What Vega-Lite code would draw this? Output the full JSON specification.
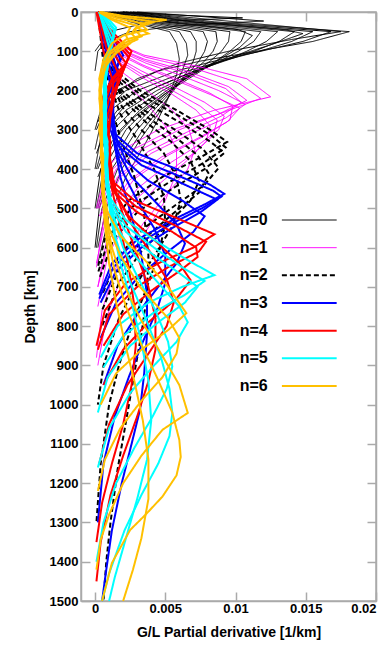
{
"$schema": "https://vega.github.io/schema/vega-lite/v6.json",
"width": 295, "height": 589,
"autosize": {"type": "none"},
"padding": {"left": 81, "top": 12, "right": 12, "bottom": 55},
"background": "white",
"config": {
 "font": "Liberation Sans",
 "view": {"stroke": "#aaaaaa", "strokeWidth": 1.5},
 "axis": {"grid": false, "labelFont": "Liberation Sans", "labelFontWeight": "bold", "labelFontSize": 13, "labelColor": "#000000", "titleFont": "Liberation Sans", "titleFontWeight": "bold", "titleFontSize": 14, "titleColor": "#000000", "tickColor": "#aaaaaa", "tickWidth": 1.5, "domainColor": "#aaaaaa", "domainWidth": 1.5}
},
"datasets": {
 "leg": [{"n":0,"lab":"n=0"},{"n":1,"lab":"n=1"},{"n":2,"lab":"n=2"},{"n":3,"lab":"n=3"},{"n":4,"lab":"n=4"},{"n":5,"lab":"n=5"},{"n":6,"lab":"n=6"}],
 "k": [
{"n":0,"c":0,"d":0,"g":0.002},{"n":0,"c":0,"d":8,"g":0.006},{"n":0,"c":0,"d":15,"g":0.0105},{"n":0,"c":0,"d":25,"g":0.004},{"n":0,"c":0,"d":50,"g":0.001},{"n":0,"c":0,"d":100,"g":0},
{"n":0,"c":1,"d":0,"g":0.003},{"n":0,"c":1,"d":10,"g":0.007},{"n":0,"c":1,"d":23,"g":0.012},{"n":0,"c":1,"d":35,"g":0.006},{"n":0,"c":1,"d":50,"g":0.0025},{"n":0,"c":1,"d":75,"g":0.0008},{"n":0,"c":1,"d":100,"g":0.0002},{"n":0,"c":1,"d":150,"g":0},
{"n":0,"c":2,"d":0,"g":0.0025},{"n":0,"c":2,"d":25,"g":0.0085},{"n":0,"c":2,"d":50,"g":0.0181},{"n":0,"c":2,"d":75,"g":0.0155},{"n":0,"c":2,"d":100,"g":0.0115},{"n":0,"c":2,"d":125,"g":0.0075},{"n":0,"c":2,"d":150,"g":0.0045},{"n":0,"c":2,"d":200,"g":0.0015},{"n":0,"c":2,"d":250,"g":0.0004},{"n":0,"c":2,"d":300,"g":0},
{"n":0,"c":3,"d":0,"g":0.0022},{"n":0,"c":3,"d":25,"g":0.0078},{"n":0,"c":3,"d":50,"g":0.0168},{"n":0,"c":3,"d":75,"g":0.0148},{"n":0,"c":3,"d":100,"g":0.0118},{"n":0,"c":3,"d":125,"g":0.0085},{"n":0,"c":3,"d":150,"g":0.0058},{"n":0,"c":3,"d":200,"g":0.0022},{"n":0,"c":3,"d":250,"g":0.0007},{"n":0,"c":3,"d":300,"g":0.0001},
{"n":0,"c":4,"d":0,"g":0.002},{"n":0,"c":4,"d":25,"g":0.0072},{"n":0,"c":4,"d":50,"g":0.0155},{"n":0,"c":4,"d":75,"g":0.014},{"n":0,"c":4,"d":100,"g":0.0117},{"n":0,"c":4,"d":125,"g":0.009},{"n":0,"c":4,"d":150,"g":0.0066},{"n":0,"c":4,"d":200,"g":0.003},{"n":0,"c":4,"d":250,"g":0.0011},{"n":0,"c":4,"d":300,"g":0.0003},{"n":0,"c":4,"d":350,"g":0},
{"n":0,"c":5,"d":0,"g":0.0018},{"n":0,"c":5,"d":25,"g":0.0066},{"n":0,"c":5,"d":50,"g":0.0142},{"n":0,"c":5,"d":75,"g":0.0131},{"n":0,"c":5,"d":100,"g":0.0113},{"n":0,"c":5,"d":125,"g":0.0092},{"n":0,"c":5,"d":150,"g":0.0071},{"n":0,"c":5,"d":200,"g":0.0038},{"n":0,"c":5,"d":250,"g":0.0016},{"n":0,"c":5,"d":300,"g":0.0005},{"n":0,"c":5,"d":400,"g":0},
{"n":0,"c":6,"d":0,"g":0.0016},{"n":0,"c":6,"d":25,"g":0.006},{"n":0,"c":6,"d":50,"g":0.013},{"n":0,"c":6,"d":75,"g":0.0122},{"n":0,"c":6,"d":100,"g":0.0108},{"n":0,"c":6,"d":125,"g":0.0091},{"n":0,"c":6,"d":150,"g":0.0073},{"n":0,"c":6,"d":200,"g":0.0044},{"n":0,"c":6,"d":250,"g":0.0022},{"n":0,"c":6,"d":300,"g":0.0009},{"n":0,"c":6,"d":400,"g":0.0001},
{"n":0,"c":7,"d":0,"g":0.0014},{"n":0,"c":7,"d":25,"g":0.0054},{"n":0,"c":7,"d":50,"g":0.0118},{"n":0,"c":7,"d":75,"g":0.0113},{"n":0,"c":7,"d":100,"g":0.0102},{"n":0,"c":7,"d":125,"g":0.0089},{"n":0,"c":7,"d":150,"g":0.0074},{"n":0,"c":7,"d":200,"g":0.0048},{"n":0,"c":7,"d":250,"g":0.0027},{"n":0,"c":7,"d":300,"g":0.0013},{"n":0,"c":7,"d":400,"g":0.0002},
{"n":0,"c":8,"d":0,"g":0.0012},{"n":0,"c":8,"d":25,"g":0.0049},{"n":0,"c":8,"d":50,"g":0.0107},{"n":0,"c":8,"d":75,"g":0.0104},{"n":0,"c":8,"d":100,"g":0.0096},{"n":0,"c":8,"d":125,"g":0.0086},{"n":0,"c":8,"d":150,"g":0.0074},{"n":0,"c":8,"d":200,"g":0.0051},{"n":0,"c":8,"d":250,"g":0.0032},{"n":0,"c":8,"d":300,"g":0.0018},{"n":0,"c":8,"d":400,"g":0.0004},{"n":0,"c":8,"d":500,"g":0},
{"n":0,"c":9,"d":0,"g":0.0011},{"n":0,"c":9,"d":25,"g":0.0044},{"n":0,"c":9,"d":50,"g":0.0096},{"n":0,"c":9,"d":75,"g":0.0095},{"n":0,"c":9,"d":100,"g":0.009},{"n":0,"c":9,"d":125,"g":0.0082},{"n":0,"c":9,"d":150,"g":0.0072},{"n":0,"c":9,"d":200,"g":0.0053},{"n":0,"c":9,"d":250,"g":0.0036},{"n":0,"c":9,"d":300,"g":0.0022},{"n":0,"c":9,"d":400,"g":0.0006},{"n":0,"c":9,"d":500,"g":0.0001},
{"n":0,"c":10,"d":0,"g":0.001},{"n":0,"c":10,"d":25,"g":0.004},{"n":0,"c":10,"d":50,"g":0.0086},{"n":0,"c":10,"d":75,"g":0.0087},{"n":0,"c":10,"d":100,"g":0.0084},{"n":0,"c":10,"d":125,"g":0.0078},{"n":0,"c":10,"d":150,"g":0.007},{"n":0,"c":10,"d":200,"g":0.0054},{"n":0,"c":10,"d":250,"g":0.0039},{"n":0,"c":10,"d":300,"g":0.0026},{"n":0,"c":10,"d":400,"g":0.0009},{"n":0,"c":10,"d":500,"g":0.0002},
{"n":0,"c":11,"d":0,"g":0.0009},{"n":0,"c":11,"d":25,"g":0.0036},{"n":0,"c":11,"d":50,"g":0.0077},{"n":0,"c":11,"d":75,"g":0.008},{"n":0,"c":11,"d":100,"g":0.0078},{"n":0,"c":11,"d":125,"g":0.0074},{"n":0,"c":11,"d":150,"g":0.0068},{"n":0,"c":11,"d":200,"g":0.0055},{"n":0,"c":11,"d":250,"g":0.0042},{"n":0,"c":11,"d":300,"g":0.003},{"n":0,"c":11,"d":400,"g":0.0012},{"n":0,"c":11,"d":500,"g":0.0003},{"n":0,"c":11,"d":600,"g":0},
{"n":0,"c":12,"d":0,"g":0.0008},{"n":0,"c":12,"d":25,"g":0.0032},{"n":0,"c":12,"d":50,"g":0.0068},{"n":0,"c":12,"d":75,"g":0.0072},{"n":0,"c":12,"d":100,"g":0.0072},{"n":0,"c":12,"d":125,"g":0.007},{"n":0,"c":12,"d":150,"g":0.0066},{"n":0,"c":12,"d":200,"g":0.0056},{"n":0,"c":12,"d":250,"g":0.0045},{"n":0,"c":12,"d":300,"g":0.0034},{"n":0,"c":12,"d":400,"g":0.0016},{"n":0,"c":12,"d":500,"g":0.0005},{"n":0,"c":12,"d":600,"g":0.0001},
{"n":0,"c":13,"d":0,"g":0.0027},{"n":0,"c":13,"d":15,"g":0.007},{"n":0,"c":13,"d":40,"g":0.0145},{"n":0,"c":13,"d":50,"g":0.0175},{"n":0,"c":13,"d":70,"g":0.014},{"n":0,"c":13,"d":100,"g":0.0095},{"n":0,"c":13,"d":130,"g":0.006},{"n":0,"c":13,"d":170,"g":0.003},{"n":0,"c":13,"d":220,"g":0.001},{"n":0,"c":13,"d":280,"g":0.0002},
{"n":0,"c":14,"d":0,"g":0.0019},{"n":0,"c":14,"d":25,"g":0.0069},{"n":0,"c":14,"d":45,"g":0.0135},{"n":0,"c":14,"d":55,"g":0.0148},{"n":0,"c":14,"d":80,"g":0.0128},{"n":0,"c":14,"d":110,"g":0.0102},{"n":0,"c":14,"d":140,"g":0.0078},{"n":0,"c":14,"d":190,"g":0.0044},{"n":0,"c":14,"d":240,"g":0.0021},{"n":0,"c":14,"d":300,"g":0.0007},{"n":0,"c":14,"d":360,"g":0.0001},
{"n":0,"c":15,"d":0,"g":0.0013},{"n":0,"c":15,"d":25,"g":0.0051},{"n":0,"c":15,"d":45,"g":0.0102},{"n":0,"c":15,"d":60,"g":0.0112},{"n":0,"c":15,"d":90,"g":0.0103},{"n":0,"c":15,"d":120,"g":0.0089},{"n":0,"c":15,"d":160,"g":0.0071},{"n":0,"c":15,"d":210,"g":0.0049},{"n":0,"c":15,"d":270,"g":0.0027},{"n":0,"c":15,"d":330,"g":0.0012},{"n":0,"c":15,"d":420,"g":0.0002},
{"n":0,"c":16,"d":0,"g":0.0007},{"n":0,"c":16,"d":25,"g":0.0028},{"n":0,"c":16,"d":50,"g":0.006},{"n":0,"c":16,"d":80,"g":0.0065},{"n":0,"c":16,"d":110,"g":0.0066},{"n":0,"c":16,"d":150,"g":0.0062},{"n":0,"c":16,"d":200,"g":0.0055},{"n":0,"c":16,"d":260,"g":0.0045},{"n":0,"c":16,"d":320,"g":0.0033},{"n":0,"c":16,"d":400,"g":0.0019},{"n":0,"c":16,"d":500,"g":0.0008},{"n":0,"c":16,"d":600,"g":0.0002},
{"n":0,"c":17,"d":0,"g":0.0006},{"n":0,"c":17,"d":25,"g":0.0025},{"n":0,"c":17,"d":50,"g":0.0053},{"n":0,"c":17,"d":80,"g":0.0058},{"n":0,"c":17,"d":120,"g":0.006},{"n":0,"c":17,"d":160,"g":0.0058},{"n":0,"c":17,"d":220,"g":0.0052},{"n":0,"c":17,"d":280,"g":0.0044},{"n":0,"c":17,"d":340,"g":0.0035},{"n":0,"c":17,"d":420,"g":0.0022},{"n":0,"c":17,"d":520,"g":0.001},{"n":0,"c":17,"d":640,"g":0.0002},
{"n":1,"c":1,"d":0,"g":0.0005},{"n":1,"c":1,"d":50,"g":0.001},{"n":1,"c":1,"d":80,"g":0.0015},{"n":1,"c":1,"d":110,"g":0.0035},{"n":1,"c":1,"d":140,"g":0.0075},{"n":1,"c":1,"d":170,"g":0.0108},{"n":1,"c":1,"d":216,"g":0.0125},{"n":1,"c":1,"d":250,"g":0.0085},{"n":1,"c":1,"d":300,"g":0.0045},{"n":1,"c":1,"d":350,"g":0.002},{"n":1,"c":1,"d":400,"g":0.0008},{"n":1,"c":1,"d":500,"g":0.0001},
{"n":1,"c":2,"d":0,"g":0.0004},{"n":1,"c":2,"d":50,"g":0.0008},{"n":1,"c":2,"d":90,"g":0.0015},{"n":1,"c":2,"d":120,"g":0.0035},{"n":1,"c":2,"d":150,"g":0.0065},{"n":1,"c":2,"d":190,"g":0.0095},{"n":1,"c":2,"d":225,"g":0.0108},{"n":1,"c":2,"d":260,"g":0.0088},{"n":1,"c":2,"d":300,"g":0.006},{"n":1,"c":2,"d":350,"g":0.0033},{"n":1,"c":2,"d":400,"g":0.0015},{"n":1,"c":2,"d":500,"g":0.0003},
{"n":1,"c":3,"d":0,"g":0.0004},{"n":1,"c":3,"d":60,"g":0.0008},{"n":1,"c":3,"d":100,"g":0.0018},{"n":1,"c":3,"d":130,"g":0.0036},{"n":1,"c":3,"d":160,"g":0.006},{"n":1,"c":3,"d":200,"g":0.0088},{"n":1,"c":3,"d":235,"g":0.0107},{"n":1,"c":3,"d":270,"g":0.0093},{"n":1,"c":3,"d":310,"g":0.0068},{"n":1,"c":3,"d":360,"g":0.004},{"n":1,"c":3,"d":420,"g":0.0018},{"n":1,"c":3,"d":520,"g":0.0004},
{"n":1,"c":4,"d":0,"g":0.0003},{"n":1,"c":4,"d":60,"g":0.0007},{"n":1,"c":4,"d":110,"g":0.0018},{"n":1,"c":4,"d":140,"g":0.0035},{"n":1,"c":4,"d":175,"g":0.0058},{"n":1,"c":4,"d":210,"g":0.0082},{"n":1,"c":4,"d":245,"g":0.0103},{"n":1,"c":4,"d":280,"g":0.0094},{"n":1,"c":4,"d":320,"g":0.0074},{"n":1,"c":4,"d":370,"g":0.0047},{"n":1,"c":4,"d":430,"g":0.0024},{"n":1,"c":4,"d":530,"g":0.0006},{"n":1,"c":4,"d":650,"g":0.0001},
{"n":1,"c":5,"d":0,"g":0.0003},{"n":1,"c":5,"d":70,"g":0.0007},{"n":1,"c":5,"d":120,"g":0.0018},{"n":1,"c":5,"d":150,"g":0.0033},{"n":1,"c":5,"d":190,"g":0.0056},{"n":1,"c":5,"d":230,"g":0.0078},{"n":1,"c":5,"d":265,"g":0.0092},{"n":1,"c":5,"d":300,"g":0.0088},{"n":1,"c":5,"d":340,"g":0.0073},{"n":1,"c":5,"d":390,"g":0.0051},{"n":1,"c":5,"d":450,"g":0.003},{"n":1,"c":5,"d":550,"g":0.001},{"n":1,"c":5,"d":700,"g":0.0002},
{"n":1,"c":6,"d":0,"g":0.0003},{"n":1,"c":6,"d":80,"g":0.0007},{"n":1,"c":6,"d":130,"g":0.0018},{"n":1,"c":6,"d":170,"g":0.0035},{"n":1,"c":6,"d":210,"g":0.0055},{"n":1,"c":6,"d":250,"g":0.0072},{"n":1,"c":6,"d":290,"g":0.0082},{"n":1,"c":6,"d":330,"g":0.0079},{"n":1,"c":6,"d":380,"g":0.0065},{"n":1,"c":6,"d":440,"g":0.0045},{"n":1,"c":6,"d":520,"g":0.0025},{"n":1,"c":6,"d":620,"g":0.0009},{"n":1,"c":6,"d":750,"g":0.0002},
{"n":1,"c":7,"d":0,"g":0.0002},{"n":1,"c":7,"d":90,"g":0.0006},{"n":1,"c":7,"d":150,"g":0.0018},{"n":1,"c":7,"d":200,"g":0.0037},{"n":1,"c":7,"d":250,"g":0.0055},{"n":1,"c":7,"d":300,"g":0.0067},{"n":1,"c":7,"d":350,"g":0.0071},{"n":1,"c":7,"d":400,"g":0.0066},{"n":1,"c":7,"d":460,"g":0.0052},{"n":1,"c":7,"d":540,"g":0.0034},{"n":1,"c":7,"d":640,"g":0.0016},{"n":1,"c":7,"d":760,"g":0.0005},{"n":1,"c":7,"d":880,"g":0.0001},
{"n":1,"c":8,"d":0,"g":0.0002},{"n":1,"c":8,"d":100,"g":0.0006},{"n":1,"c":8,"d":170,"g":0.0018},{"n":1,"c":8,"d":230,"g":0.0036},{"n":1,"c":8,"d":290,"g":0.005},{"n":1,"c":8,"d":350,"g":0.0058},{"n":1,"c":8,"d":410,"g":0.0058},{"n":1,"c":8,"d":480,"g":0.005},{"n":1,"c":8,"d":560,"g":0.0036},{"n":1,"c":8,"d":660,"g":0.002},{"n":1,"c":8,"d":780,"g":0.0008},{"n":1,"c":8,"d":900,"g":0.0002},
{"n":1,"c":9,"d":0,"g":0.0005},{"n":1,"c":9,"d":50,"g":0.0011},{"n":1,"c":9,"d":85,"g":0.0017},{"n":1,"c":9,"d":115,"g":0.0036},{"n":1,"c":9,"d":145,"g":0.0072},{"n":1,"c":9,"d":180,"g":0.0102},{"n":1,"c":9,"d":220,"g":0.0118},{"n":1,"c":9,"d":255,"g":0.0092},{"n":1,"c":9,"d":300,"g":0.0055},{"n":1,"c":9,"d":350,"g":0.0027},{"n":1,"c":9,"d":410,"g":0.001},{"n":1,"c":9,"d":500,"g":0.0002},
{"n":1,"c":10,"d":0,"g":0.0004},{"n":1,"c":10,"d":55,"g":0.0009},{"n":1,"c":10,"d":95,"g":0.0017},{"n":1,"c":10,"d":125,"g":0.0036},{"n":1,"c":10,"d":155,"g":0.0064},{"n":1,"c":10,"d":195,"g":0.0093},{"n":1,"c":10,"d":230,"g":0.0104},{"n":1,"c":10,"d":265,"g":0.009},{"n":1,"c":10,"d":305,"g":0.0066},{"n":1,"c":10,"d":355,"g":0.0038},{"n":1,"c":10,"d":420,"g":0.0016},{"n":1,"c":10,"d":520,"g":0.0003},
{"n":1,"c":11,"d":0,"g":0.0003},{"n":1,"c":11,"d":65,"g":0.0008},{"n":1,"c":11,"d":105,"g":0.0018},{"n":1,"c":11,"d":135,"g":0.0034},{"n":1,"c":11,"d":170,"g":0.0058},{"n":1,"c":11,"d":205,"g":0.0081},{"n":1,"c":11,"d":240,"g":0.0098},{"n":1,"c":11,"d":275,"g":0.0096},{"n":1,"c":11,"d":315,"g":0.0078},{"n":1,"c":11,"d":365,"g":0.0052},{"n":1,"c":11,"d":425,"g":0.0028},{"n":1,"c":11,"d":520,"g":0.0008},{"n":1,"c":11,"d":640,"g":0.0001},
{"n":1,"c":12,"d":0,"g":0.0003},{"n":1,"c":12,"d":75,"g":0.0007},{"n":1,"c":12,"d":125,"g":0.0018},{"n":1,"c":12,"d":160,"g":0.0034},{"n":1,"c":12,"d":200,"g":0.0055},{"n":1,"c":12,"d":240,"g":0.0075},{"n":1,"c":12,"d":275,"g":0.0087},{"n":1,"c":12,"d":315,"g":0.0084},{"n":1,"c":12,"d":360,"g":0.007},{"n":1,"c":12,"d":415,"g":0.0049},{"n":1,"c":12,"d":480,"g":0.0028},{"n":1,"c":12,"d":580,"g":0.001},{"n":1,"c":12,"d":700,"g":0.0002},
{"n":2,"c":1,"d":0,"g":0.0004},{"n":2,"c":1,"d":100,"g":0.001},{"n":2,"c":1,"d":160,"g":0.0018},{"n":2,"c":1,"d":200,"g":0.0032},{"n":2,"c":1,"d":250,"g":0.0058},{"n":2,"c":1,"d":300,"g":0.0082},{"n":2,"c":1,"d":331,"g":0.0094},{"n":2,"c":1,"d":370,"g":0.0075},{"n":2,"c":1,"d":420,"g":0.0048},{"n":2,"c":1,"d":480,"g":0.0024},{"n":2,"c":1,"d":550,"g":0.0009},{"n":2,"c":1,"d":650,"g":0.0002},
{"n":2,"c":2,"d":0,"g":0.0004},{"n":2,"c":2,"d":100,"g":0.0009},{"n":2,"c":2,"d":180,"g":0.0018},{"n":2,"c":2,"d":230,"g":0.0035},{"n":2,"c":2,"d":280,"g":0.006},{"n":2,"c":2,"d":330,"g":0.0082},{"n":2,"c":2,"d":359,"g":0.0092},{"n":2,"c":2,"d":400,"g":0.0078},{"n":2,"c":2,"d":450,"g":0.0055},{"n":2,"c":2,"d":510,"g":0.003},{"n":2,"c":2,"d":580,"g":0.0013},{"n":2,"c":2,"d":680,"g":0.0003},
{"n":2,"c":3,"d":0,"g":0.0003},{"n":2,"c":3,"d":120,"g":0.0009},{"n":2,"c":3,"d":200,"g":0.0019},{"n":2,"c":3,"d":250,"g":0.0035},{"n":2,"c":3,"d":300,"g":0.0057},{"n":2,"c":3,"d":350,"g":0.0077},{"n":2,"c":3,"d":397,"g":0.0088},{"n":2,"c":3,"d":440,"g":0.0078},{"n":2,"c":3,"d":490,"g":0.0058},{"n":2,"c":3,"d":550,"g":0.0035},{"n":2,"c":3,"d":620,"g":0.0017},{"n":2,"c":3,"d":720,"g":0.0005},
{"n":2,"c":4,"d":0,"g":0.0003},{"n":2,"c":4,"d":130,"g":0.0009},{"n":2,"c":4,"d":220,"g":0.0019},{"n":2,"c":4,"d":280,"g":0.0036},{"n":2,"c":4,"d":330,"g":0.0054},{"n":2,"c":4,"d":380,"g":0.0068},{"n":2,"c":4,"d":430,"g":0.0074},{"n":2,"c":4,"d":480,"g":0.0068},{"n":2,"c":4,"d":540,"g":0.0052},{"n":2,"c":4,"d":610,"g":0.0033},{"n":2,"c":4,"d":690,"g":0.0017},{"n":2,"c":4,"d":800,"g":0.0005},
{"n":2,"c":5,"d":0,"g":0.0003},{"n":2,"c":5,"d":150,"g":0.0009},{"n":2,"c":5,"d":240,"g":0.0019},{"n":2,"c":5,"d":300,"g":0.0033},{"n":2,"c":5,"d":360,"g":0.0049},{"n":2,"c":5,"d":420,"g":0.0058},{"n":2,"c":5,"d":480,"g":0.0061},{"n":2,"c":5,"d":540,"g":0.0056},{"n":2,"c":5,"d":610,"g":0.0044},{"n":2,"c":5,"d":690,"g":0.003},{"n":2,"c":5,"d":780,"g":0.0017},{"n":2,"c":5,"d":900,"g":0.0006},{"n":2,"c":5,"d":1000,"g":0.0002},
{"n":2,"c":6,"d":0,"g":0.0002},{"n":2,"c":6,"d":160,"g":0.0008},{"n":2,"c":6,"d":260,"g":0.0018},{"n":2,"c":6,"d":330,"g":0.0031},{"n":2,"c":6,"d":400,"g":0.0042},{"n":2,"c":6,"d":470,"g":0.0049},{"n":2,"c":6,"d":540,"g":0.005},{"n":2,"c":6,"d":620,"g":0.0045},{"n":2,"c":6,"d":710,"g":0.0036},{"n":2,"c":6,"d":800,"g":0.0026},{"n":2,"c":6,"d":900,"g":0.0017},{"n":2,"c":6,"d":1000,"g":0.001},{"n":2,"c":6,"d":1150,"g":0.0004},{"n":2,"c":6,"d":1300,"g":0.0001},
{"n":2,"c":7,"d":0,"g":0.0002},{"n":2,"c":7,"d":200,"g":0.0008},{"n":2,"c":7,"d":320,"g":0.0018},{"n":2,"c":7,"d":420,"g":0.0028},{"n":2,"c":7,"d":520,"g":0.0035},{"n":2,"c":7,"d":620,"g":0.0038},{"n":2,"c":7,"d":720,"g":0.0037},{"n":2,"c":7,"d":820,"g":0.0033},{"n":2,"c":7,"d":920,"g":0.0028},{"n":2,"c":7,"d":1064,"g":0.0021},{"n":2,"c":7,"d":1166,"g":0.0016},{"n":2,"c":7,"d":1300,"g":0.0011},{"n":2,"c":7,"d":1400,"g":0.0008},{"n":2,"c":7,"d":1500,"g":0.0006},
{"n":2,"c":8,"d":0,"g":0.0004},{"n":2,"c":8,"d":100,"g":0.001},{"n":2,"c":8,"d":170,"g":0.0018},{"n":2,"c":8,"d":215,"g":0.0034},{"n":2,"c":8,"d":265,"g":0.006},{"n":2,"c":8,"d":315,"g":0.0083},{"n":2,"c":8,"d":345,"g":0.0093},{"n":2,"c":8,"d":385,"g":0.0077},{"n":2,"c":8,"d":435,"g":0.0052},{"n":2,"c":8,"d":495,"g":0.0027},{"n":2,"c":8,"d":565,"g":0.0011},{"n":2,"c":8,"d":665,"g":0.0002},
{"n":2,"c":9,"d":0,"g":0.0003},{"n":2,"c":9,"d":125,"g":0.0009},{"n":2,"c":9,"d":210,"g":0.0019},{"n":2,"c":9,"d":265,"g":0.0036},{"n":2,"c":9,"d":315,"g":0.0056},{"n":2,"c":9,"d":365,"g":0.0073},{"n":2,"c":9,"d":412,"g":0.0081},{"n":2,"c":9,"d":460,"g":0.0074},{"n":2,"c":9,"d":515,"g":0.0055},{"n":2,"c":9,"d":580,"g":0.0034},{"n":2,"c":9,"d":655,"g":0.0017},{"n":2,"c":9,"d":760,"g":0.0005},
{"n":3,"c":1,"d":0,"g":0.0004},{"n":3,"c":1,"d":60,"g":0.0012},{"n":3,"c":1,"d":110,"g":0.002},{"n":3,"c":1,"d":160,"g":0.0012},{"n":3,"c":1,"d":210,"g":0.0008},{"n":3,"c":1,"d":260,"g":0.0013},{"n":3,"c":1,"d":310,"g":0.0014},{"n":3,"c":1,"d":360,"g":0.003},{"n":3,"c":1,"d":400,"g":0.0058},{"n":3,"c":1,"d":440,"g":0.0082},{"n":3,"c":1,"d":463,"g":0.0092},{"n":3,"c":1,"d":490,"g":0.0078},{"n":3,"c":1,"d":530,"g":0.0055},{"n":3,"c":1,"d":580,"g":0.003},{"n":3,"c":1,"d":640,"g":0.0012},{"n":3,"c":1,"d":720,"g":0.0003},
{"n":3,"c":2,"d":0,"g":0.0003},{"n":3,"c":2,"d":70,"g":0.001},{"n":3,"c":2,"d":130,"g":0.0017},{"n":3,"c":2,"d":190,"g":0.001},{"n":3,"c":2,"d":240,"g":0.0008},{"n":3,"c":2,"d":290,"g":0.0014},{"n":3,"c":2,"d":340,"g":0.0016},{"n":3,"c":2,"d":390,"g":0.0033},{"n":3,"c":2,"d":430,"g":0.0058},{"n":3,"c":2,"d":478,"g":0.0087},{"n":3,"c":2,"d":510,"g":0.0075},{"n":3,"c":2,"d":550,"g":0.0055},{"n":3,"c":2,"d":600,"g":0.0033},{"n":3,"c":2,"d":660,"g":0.0015},{"n":3,"c":2,"d":740,"g":0.0004},
{"n":3,"c":3,"d":0,"g":0.0003},{"n":3,"c":3,"d":80,"g":0.001},{"n":3,"c":3,"d":150,"g":0.0016},{"n":3,"c":3,"d":210,"g":0.001},{"n":3,"c":3,"d":260,"g":0.0009},{"n":3,"c":3,"d":320,"g":0.0015},{"n":3,"c":3,"d":380,"g":0.0022},{"n":3,"c":3,"d":430,"g":0.0038},{"n":3,"c":3,"d":480,"g":0.0062},{"n":3,"c":3,"d":520,"g":0.0078},{"n":3,"c":3,"d":560,"g":0.007},{"n":3,"c":3,"d":610,"g":0.0052},{"n":3,"c":3,"d":670,"g":0.0032},{"n":3,"c":3,"d":740,"g":0.0015},{"n":3,"c":3,"d":830,"g":0.0004},
{"n":3,"c":4,"d":0,"g":0.0003},{"n":3,"c":4,"d":90,"g":0.0009},{"n":3,"c":4,"d":170,"g":0.0015},{"n":3,"c":4,"d":240,"g":0.0011},{"n":3,"c":4,"d":300,"g":0.0011},{"n":3,"c":4,"d":360,"g":0.0017},{"n":3,"c":4,"d":420,"g":0.0026},{"n":3,"c":4,"d":480,"g":0.0042},{"n":3,"c":4,"d":540,"g":0.0058},{"n":3,"c":4,"d":590,"g":0.0064},{"n":3,"c":4,"d":640,"g":0.0058},{"n":3,"c":4,"d":700,"g":0.0045},{"n":3,"c":4,"d":770,"g":0.003},{"n":3,"c":4,"d":850,"g":0.0016},{"n":3,"c":4,"d":950,"g":0.0006},
{"n":3,"c":5,"d":0,"g":0.0002},{"n":3,"c":5,"d":100,"g":0.0008},{"n":3,"c":5,"d":190,"g":0.0014},{"n":3,"c":5,"d":270,"g":0.0012},{"n":3,"c":5,"d":340,"g":0.0014},{"n":3,"c":5,"d":410,"g":0.002},{"n":3,"c":5,"d":480,"g":0.003},{"n":3,"c":5,"d":550,"g":0.0042},{"n":3,"c":5,"d":620,"g":0.005},{"n":3,"c":5,"d":690,"g":0.005},{"n":3,"c":5,"d":760,"g":0.0044},{"n":3,"c":5,"d":840,"g":0.0034},{"n":3,"c":5,"d":930,"g":0.0024},{"n":3,"c":5,"d":1030,"g":0.0014},{"n":3,"c":5,"d":1150,"g":0.0006},{"n":3,"c":5,"d":1300,"g":0.0002},
{"n":3,"c":6,"d":0,"g":0.0002},{"n":3,"c":6,"d":120,"g":0.0007},{"n":3,"c":6,"d":220,"g":0.0013},{"n":3,"c":6,"d":320,"g":0.0013},{"n":3,"c":6,"d":420,"g":0.0018},{"n":3,"c":6,"d":520,"g":0.0026},{"n":3,"c":6,"d":620,"g":0.0033},{"n":3,"c":6,"d":720,"g":0.0037},{"n":3,"c":6,"d":820,"g":0.0037},{"n":3,"c":6,"d":920,"g":0.0035},{"n":3,"c":6,"d":1013,"g":0.0032},{"n":3,"c":6,"d":1100,"g":0.0026},{"n":3,"c":6,"d":1200,"g":0.0019},{"n":3,"c":6,"d":1320,"g":0.0012},{"n":3,"c":6,"d":1420,"g":0.0008},{"n":3,"c":6,"d":1500,"g":0.0005},
{"n":3,"c":7,"d":0,"g":0.0003},{"n":3,"c":7,"d":65,"g":0.0011},{"n":3,"c":7,"d":120,"g":0.0018},{"n":3,"c":7,"d":175,"g":0.0011},{"n":3,"c":7,"d":225,"g":0.0008},{"n":3,"c":7,"d":275,"g":0.0013},{"n":3,"c":7,"d":325,"g":0.0015},{"n":3,"c":7,"d":375,"g":0.0031},{"n":3,"c":7,"d":415,"g":0.0058},{"n":3,"c":7,"d":455,"g":0.0084},{"n":3,"c":7,"d":470,"g":0.009},{"n":3,"c":7,"d":500,"g":0.0076},{"n":3,"c":7,"d":540,"g":0.0054},{"n":3,"c":7,"d":590,"g":0.0031},{"n":3,"c":7,"d":650,"g":0.0013},{"n":3,"c":7,"d":730,"g":0.0003},
{"n":4,"c":1,"d":0,"g":0.0002},{"n":4,"c":1,"d":50,"g":0.0012},{"n":4,"c":1,"d":100,"g":0.0026},{"n":4,"c":1,"d":130,"g":0.0022},{"n":4,"c":1,"d":170,"g":0.0012},{"n":4,"c":1,"d":220,"g":0.0005},{"n":4,"c":1,"d":280,"g":0.0007},{"n":4,"c":1,"d":330,"g":0.0011},{"n":4,"c":1,"d":380,"g":0.0008},{"n":4,"c":1,"d":430,"g":0.0012},{"n":4,"c":1,"d":480,"g":0.0028},{"n":4,"c":1,"d":520,"g":0.0055},{"n":4,"c":1,"d":566,"g":0.0085},{"n":4,"c":1,"d":600,"g":0.007},{"n":4,"c":1,"d":640,"g":0.0045},{"n":4,"c":1,"d":690,"g":0.0022},{"n":4,"c":1,"d":760,"g":0.0007},{"n":4,"c":1,"d":850,"g":0.0001},
{"n":4,"c":2,"d":0,"g":0.0002},{"n":4,"c":2,"d":60,"g":0.0011},{"n":4,"c":2,"d":115,"g":0.0024},{"n":4,"c":2,"d":150,"g":0.002},{"n":4,"c":2,"d":190,"g":0.0011},{"n":4,"c":2,"d":250,"g":0.0005},{"n":4,"c":2,"d":310,"g":0.0008},{"n":4,"c":2,"d":360,"g":0.0011},{"n":4,"c":2,"d":410,"g":0.0009},{"n":4,"c":2,"d":460,"g":0.0014},{"n":4,"c":2,"d":510,"g":0.003},{"n":4,"c":2,"d":560,"g":0.0055},{"n":4,"c":2,"d":600,"g":0.0072},{"n":4,"c":2,"d":624,"g":0.0073},{"n":4,"c":2,"d":660,"g":0.006},{"n":4,"c":2,"d":710,"g":0.004},{"n":4,"c":2,"d":770,"g":0.002},{"n":4,"c":2,"d":850,"g":0.0006},
{"n":4,"c":3,"d":0,"g":0.0002},{"n":4,"c":3,"d":70,"g":0.001},{"n":4,"c":3,"d":130,"g":0.0022},{"n":4,"c":3,"d":170,"g":0.0018},{"n":4,"c":3,"d":220,"g":0.001},{"n":4,"c":3,"d":280,"g":0.0006},{"n":4,"c":3,"d":340,"g":0.0009},{"n":4,"c":3,"d":400,"g":0.0012},{"n":4,"c":3,"d":460,"g":0.0014},{"n":4,"c":3,"d":520,"g":0.0024},{"n":4,"c":3,"d":580,"g":0.0042},{"n":4,"c":3,"d":640,"g":0.006},{"n":4,"c":3,"d":683,"g":0.0068},{"n":4,"c":3,"d":730,"g":0.0058},{"n":4,"c":3,"d":790,"g":0.0038},{"n":4,"c":3,"d":860,"g":0.002},{"n":4,"c":3,"d":950,"g":0.0006},
{"n":4,"c":4,"d":0,"g":0.0002},{"n":4,"c":4,"d":80,"g":0.0009},{"n":4,"c":4,"d":145,"g":0.002},{"n":4,"c":4,"d":200,"g":0.0015},{"n":4,"c":4,"d":260,"g":0.0009},{"n":4,"c":4,"d":330,"g":0.0008},{"n":4,"c":4,"d":400,"g":0.0011},{"n":4,"c":4,"d":470,"g":0.0016},{"n":4,"c":4,"d":540,"g":0.0026},{"n":4,"c":4,"d":610,"g":0.0039},{"n":4,"c":4,"d":680,"g":0.0051},{"n":4,"c":4,"d":740,"g":0.0056},{"n":4,"c":4,"d":800,"g":0.0051},{"n":4,"c":4,"d":870,"g":0.0038},{"n":4,"c":4,"d":950,"g":0.0023},{"n":4,"c":4,"d":1050,"g":0.001},{"n":4,"c":4,"d":1150,"g":0.0003},
{"n":4,"c":5,"d":0,"g":0.0002},{"n":4,"c":5,"d":90,"g":0.0008},{"n":4,"c":5,"d":160,"g":0.0017},{"n":4,"c":5,"d":230,"g":0.0013},{"n":4,"c":5,"d":300,"g":0.0009},{"n":4,"c":5,"d":380,"g":0.001},{"n":4,"c":5,"d":460,"g":0.0015},{"n":4,"c":5,"d":540,"g":0.0022},{"n":4,"c":5,"d":620,"g":0.003},{"n":4,"c":5,"d":700,"g":0.0038},{"n":4,"c":5,"d":780,"g":0.0043},{"n":4,"c":5,"d":860,"g":0.0043},{"n":4,"c":5,"d":940,"g":0.0038},{"n":4,"c":5,"d":1030,"g":0.003},{"n":4,"c":5,"d":1130,"g":0.002},{"n":4,"c":5,"d":1230,"g":0.0011},{"n":4,"c":5,"d":1350,"g":0.0004},{"n":4,"c":5,"d":1450,"g":0.0001},
{"n":4,"c":6,"d":0,"g":0.0001},{"n":4,"c":6,"d":100,"g":0.0006},{"n":4,"c":6,"d":180,"g":0.0013},{"n":4,"c":6,"d":260,"g":0.0011},{"n":4,"c":6,"d":350,"g":0.0009},{"n":4,"c":6,"d":450,"g":0.0012},{"n":4,"c":6,"d":550,"g":0.0018},{"n":4,"c":6,"d":650,"g":0.0024},{"n":4,"c":6,"d":750,"g":0.0028},{"n":4,"c":6,"d":850,"g":0.0029},{"n":4,"c":6,"d":950,"g":0.0026},{"n":4,"c":6,"d":1050,"g":0.002},{"n":4,"c":6,"d":1150,"g":0.0012},{"n":4,"c":6,"d":1250,"g":0.0005},{"n":4,"c":6,"d":1350,"g":0.0001},
{"n":4,"c":7,"d":0,"g":0.0002},{"n":4,"c":7,"d":55,"g":0.0011},{"n":4,"c":7,"d":108,"g":0.0025},{"n":4,"c":7,"d":140,"g":0.0021},{"n":4,"c":7,"d":180,"g":0.0011},{"n":4,"c":7,"d":235,"g":0.0005},{"n":4,"c":7,"d":295,"g":0.0007},{"n":4,"c":7,"d":345,"g":0.0011},{"n":4,"c":7,"d":395,"g":0.0009},{"n":4,"c":7,"d":445,"g":0.0013},{"n":4,"c":7,"d":495,"g":0.0029},{"n":4,"c":7,"d":540,"g":0.0055},{"n":4,"c":7,"d":585,"g":0.0079},{"n":4,"c":7,"d":610,"g":0.0074},{"n":4,"c":7,"d":650,"g":0.0052},{"n":4,"c":7,"d":700,"g":0.003},{"n":4,"c":7,"d":770,"g":0.001},{"n":4,"c":7,"d":860,"g":0.0002},
{"n":5,"c":1,"d":0,"g":0.0005},{"n":5,"c":1,"d":40,"g":0.0015},{"n":5,"c":1,"d":80,"g":0.0012},{"n":5,"c":1,"d":130,"g":0.0006},{"n":5,"c":1,"d":200,"g":0.0008},{"n":5,"c":1,"d":260,"g":0.0004},{"n":5,"c":1,"d":330,"g":0.0009},{"n":5,"c":1,"d":400,"g":0.0007},{"n":5,"c":1,"d":470,"g":0.001},{"n":5,"c":1,"d":530,"g":0.0022},{"n":5,"c":1,"d":580,"g":0.0042},{"n":5,"c":1,"d":630,"g":0.0065},{"n":5,"c":1,"d":670,"g":0.0085},{"n":5,"c":1,"d":700,"g":0.0062},{"n":5,"c":1,"d":740,"g":0.0038},{"n":5,"c":1,"d":800,"g":0.0016},{"n":5,"c":1,"d":880,"g":0.0004},
{"n":5,"c":2,"d":0,"g":0.0004},{"n":5,"c":2,"d":50,"g":0.0014},{"n":5,"c":2,"d":95,"g":0.0011},{"n":5,"c":2,"d":150,"g":0.0006},{"n":5,"c":2,"d":220,"g":0.0008},{"n":5,"c":2,"d":290,"g":0.0005},{"n":5,"c":2,"d":360,"g":0.0009},{"n":5,"c":2,"d":430,"g":0.0008},{"n":5,"c":2,"d":500,"g":0.0012},{"n":5,"c":2,"d":560,"g":0.0022},{"n":5,"c":2,"d":620,"g":0.0042},{"n":5,"c":2,"d":665,"g":0.006},{"n":5,"c":2,"d":700,"g":0.0073},{"n":5,"c":2,"d":740,"g":0.0064},{"n":5,"c":2,"d":790,"g":0.0045},{"n":5,"c":2,"d":850,"g":0.0025},{"n":5,"c":2,"d":930,"g":0.0009},{"n":5,"c":2,"d":1020,"g":0.0002},
{"n":5,"c":3,"d":0,"g":0.0004},{"n":5,"c":3,"d":60,"g":0.0013},{"n":5,"c":3,"d":110,"g":0.001},{"n":5,"c":3,"d":170,"g":0.0006},{"n":5,"c":3,"d":240,"g":0.0008},{"n":5,"c":3,"d":320,"g":0.0006},{"n":5,"c":3,"d":400,"g":0.0009},{"n":5,"c":3,"d":480,"g":0.001},{"n":5,"c":3,"d":550,"g":0.0016},{"n":5,"c":3,"d":620,"g":0.0028},{"n":5,"c":3,"d":690,"g":0.0045},{"n":5,"c":3,"d":750,"g":0.006},{"n":5,"c":3,"d":790,"g":0.0066},{"n":5,"c":3,"d":840,"g":0.0058},{"n":5,"c":3,"d":900,"g":0.0042},{"n":5,"c":3,"d":970,"g":0.0025},{"n":5,"c":3,"d":1060,"g":0.001},{"n":5,"c":3,"d":1160,"g":0.0002},
{"n":5,"c":4,"d":0,"g":0.0003},{"n":5,"c":4,"d":70,"g":0.0012},{"n":5,"c":4,"d":125,"g":0.001},{"n":5,"c":4,"d":190,"g":0.0006},{"n":5,"c":4,"d":270,"g":0.0008},{"n":5,"c":4,"d":350,"g":0.0007},{"n":5,"c":4,"d":430,"g":0.0009},{"n":5,"c":4,"d":520,"g":0.0013},{"n":5,"c":4,"d":600,"g":0.002},{"n":5,"c":4,"d":680,"g":0.0031},{"n":5,"c":4,"d":760,"g":0.0043},{"n":5,"c":4,"d":840,"g":0.0052},{"n":5,"c":4,"d":903,"g":0.0055},{"n":5,"c":4,"d":960,"g":0.0051},{"n":5,"c":4,"d":1030,"g":0.0041},{"n":5,"c":4,"d":1110,"g":0.0028},{"n":5,"c":4,"d":1200,"g":0.0015},{"n":5,"c":4,"d":1300,"g":0.0006},{"n":5,"c":4,"d":1400,"g":0.0001},
{"n":5,"c":5,"d":0,"g":0.0003},{"n":5,"c":5,"d":80,"g":0.0011},{"n":5,"c":5,"d":140,"g":0.0009},{"n":5,"c":5,"d":210,"g":0.0006},{"n":5,"c":5,"d":300,"g":0.0008},{"n":5,"c":5,"d":390,"g":0.0007},{"n":5,"c":5,"d":480,"g":0.001},{"n":5,"c":5,"d":580,"g":0.0015},{"n":5,"c":5,"d":680,"g":0.0024},{"n":5,"c":5,"d":780,"g":0.0036},{"n":5,"c":5,"d":880,"g":0.0047},{"n":5,"c":5,"d":960,"g":0.0053},{"n":5,"c":5,"d":1021,"g":0.0055},{"n":5,"c":5,"d":1080,"g":0.0053},{"n":5,"c":5,"d":1150,"g":0.0045},{"n":5,"c":5,"d":1230,"g":0.0033},{"n":5,"c":5,"d":1320,"g":0.0021},{"n":5,"c":5,"d":1430,"g":0.001},{"n":5,"c":5,"d":1500,"g":0.0005},
{"n":5,"c":6,"d":0,"g":0.0003},{"n":5,"c":6,"d":90,"g":0.001},{"n":5,"c":6,"d":160,"g":0.0008},{"n":5,"c":6,"d":240,"g":0.0006},{"n":5,"c":6,"d":340,"g":0.0007},{"n":5,"c":6,"d":440,"g":0.0008},{"n":5,"c":6,"d":540,"g":0.0012},{"n":5,"c":6,"d":640,"g":0.0018},{"n":5,"c":6,"d":740,"g":0.0026},{"n":5,"c":6,"d":840,"g":0.0033},{"n":5,"c":6,"d":940,"g":0.0038},{"n":5,"c":6,"d":1040,"g":0.004},{"n":5,"c":6,"d":1140,"g":0.0037},{"n":5,"c":6,"d":1240,"g":0.003},{"n":5,"c":6,"d":1340,"g":0.0022},{"n":5,"c":6,"d":1440,"g":0.0014},{"n":5,"c":6,"d":1500,"g":0.001},
{"n":5,"c":7,"d":0,"g":0.0004},{"n":5,"c":7,"d":45,"g":0.0014},{"n":5,"c":7,"d":88,"g":0.0012},{"n":5,"c":7,"d":140,"g":0.0006},{"n":5,"c":7,"d":210,"g":0.0008},{"n":5,"c":7,"d":275,"g":0.0005},{"n":5,"c":7,"d":345,"g":0.0009},{"n":5,"c":7,"d":415,"g":0.0008},{"n":5,"c":7,"d":485,"g":0.0011},{"n":5,"c":7,"d":545,"g":0.0022},{"n":5,"c":7,"d":600,"g":0.0042},{"n":5,"c":7,"d":650,"g":0.0062},{"n":5,"c":7,"d":685,"g":0.0078},{"n":5,"c":7,"d":720,"g":0.0064},{"n":5,"c":7,"d":765,"g":0.0042},{"n":5,"c":7,"d":825,"g":0.002},{"n":5,"c":7,"d":905,"g":0.0006},
{"n":6,"c":1,"d":0,"g":0.0004},{"n":6,"c":1,"d":10,"g":0.002},{"n":6,"c":1,"d":20,"g":0.0051},{"n":6,"c":1,"d":30,"g":0.0032},{"n":6,"c":1,"d":45,"g":0.0037},{"n":6,"c":1,"d":60,"g":0.002},{"n":6,"c":1,"d":80,"g":0.0012},{"n":6,"c":1,"d":120,"g":0.0006},{"n":6,"c":1,"d":170,"g":0.0003},{"n":6,"c":1,"d":230,"g":0.0005},{"n":6,"c":1,"d":300,"g":0.0003},{"n":6,"c":1,"d":370,"g":0.0006},{"n":6,"c":1,"d":440,"g":0.0005},{"n":6,"c":1,"d":510,"g":0.0009},{"n":6,"c":1,"d":570,"g":0.0018},{"n":6,"c":1,"d":630,"g":0.0035},{"n":6,"c":1,"d":700,"g":0.0052},{"n":6,"c":1,"d":767,"g":0.0065},{"n":6,"c":1,"d":810,"g":0.0052},{"n":6,"c":1,"d":860,"g":0.0033},{"n":6,"c":1,"d":920,"g":0.0015},{"n":6,"c":1,"d":1000,"g":0.0004},
{"n":6,"c":2,"d":0,"g":0.0004},{"n":6,"c":2,"d":12,"g":0.0018},{"n":6,"c":2,"d":25,"g":0.0042},{"n":6,"c":2,"d":40,"g":0.003},{"n":6,"c":2,"d":55,"g":0.0038},{"n":6,"c":2,"d":70,"g":0.0022},{"n":6,"c":2,"d":100,"g":0.0011},{"n":6,"c":2,"d":140,"g":0.0005},{"n":6,"c":2,"d":200,"g":0.0003},{"n":6,"c":2,"d":260,"g":0.0005},{"n":6,"c":2,"d":330,"g":0.0004},{"n":6,"c":2,"d":400,"g":0.0006},{"n":6,"c":2,"d":470,"g":0.0006},{"n":6,"c":2,"d":550,"g":0.001},{"n":6,"c":2,"d":620,"g":0.0018},{"n":6,"c":2,"d":700,"g":0.0032},{"n":6,"c":2,"d":780,"g":0.0052},{"n":6,"c":2,"d":830,"g":0.006},{"n":6,"c":2,"d":870,"g":0.0058},{"n":6,"c":2,"d":930,"g":0.0048},{"n":6,"c":2,"d":990,"g":0.0033},{"n":6,"c":2,"d":1060,"g":0.0018},{"n":6,"c":2,"d":1140,"g":0.0007},{"n":6,"c":2,"d":1220,"g":0.0002},
{"n":6,"c":3,"d":0,"g":0.0003},{"n":6,"c":3,"d":15,"g":0.0015},{"n":6,"c":3,"d":30,"g":0.0035},{"n":6,"c":3,"d":45,"g":0.0028},{"n":6,"c":3,"d":62,"g":0.0033},{"n":6,"c":3,"d":80,"g":0.002},{"n":6,"c":3,"d":110,"g":0.001},{"n":6,"c":3,"d":160,"g":0.0005},{"n":6,"c":3,"d":220,"g":0.0003},{"n":6,"c":3,"d":290,"g":0.0005},{"n":6,"c":3,"d":360,"g":0.0004},{"n":6,"c":3,"d":430,"g":0.0006},{"n":6,"c":3,"d":510,"g":0.0007},{"n":6,"c":3,"d":600,"g":0.0012},{"n":6,"c":3,"d":690,"g":0.002},{"n":6,"c":3,"d":780,"g":0.0032},{"n":6,"c":3,"d":870,"g":0.0047},{"n":6,"c":3,"d":950,"g":0.006},{"n":6,"c":3,"d":1021,"g":0.0066},{"n":6,"c":3,"d":1064,"g":0.0048},{"n":6,"c":3,"d":1130,"g":0.0033},{"n":6,"c":3,"d":1200,"g":0.002},{"n":6,"c":3,"d":1280,"g":0.001},{"n":6,"c":3,"d":1344,"g":0.0004},{"n":6,"c":3,"d":1420,"g":0.0001},
{"n":6,"c":4,"d":0,"g":0.0003},{"n":6,"c":4,"d":18,"g":0.0013},{"n":6,"c":4,"d":35,"g":0.003},{"n":6,"c":4,"d":55,"g":0.0026},{"n":6,"c":4,"d":70,"g":0.003},{"n":6,"c":4,"d":90,"g":0.0018},{"n":6,"c":4,"d":125,"g":0.0009},{"n":6,"c":4,"d":180,"g":0.0004},{"n":6,"c":4,"d":250,"g":0.0004},{"n":6,"c":4,"d":320,"g":0.0005},{"n":6,"c":4,"d":400,"g":0.0005},{"n":6,"c":4,"d":480,"g":0.0006},{"n":6,"c":4,"d":570,"g":0.0009},{"n":6,"c":4,"d":660,"g":0.0014},{"n":6,"c":4,"d":750,"g":0.0022},{"n":6,"c":4,"d":840,"g":0.0032},{"n":6,"c":4,"d":930,"g":0.0044},{"n":6,"c":4,"d":1020,"g":0.0055},{"n":6,"c":4,"d":1090,"g":0.006},{"n":6,"c":4,"d":1133,"g":0.0061},{"n":6,"c":4,"d":1180,"g":0.0058},{"n":6,"c":4,"d":1234,"g":0.0048},{"n":6,"c":4,"d":1280,"g":0.0036},{"n":6,"c":4,"d":1319,"g":0.0025},{"n":6,"c":4,"d":1403,"g":0.0012},{"n":6,"c":4,"d":1500,"g":0.0005},
{"n":6,"c":5,"d":0,"g":0.0003},{"n":6,"c":5,"d":20,"g":0.0012},{"n":6,"c":5,"d":40,"g":0.0025},{"n":6,"c":5,"d":60,"g":0.0022},{"n":6,"c":5,"d":80,"g":0.0025},{"n":6,"c":5,"d":105,"g":0.0015},{"n":6,"c":5,"d":140,"g":0.0007},{"n":6,"c":5,"d":200,"g":0.0004},{"n":6,"c":5,"d":280,"g":0.0004},{"n":6,"c":5,"d":360,"g":0.0005},{"n":6,"c":5,"d":450,"g":0.0005},{"n":6,"c":5,"d":540,"g":0.0007},{"n":6,"c":5,"d":640,"g":0.001},{"n":6,"c":5,"d":740,"g":0.0015},{"n":6,"c":5,"d":840,"g":0.0021},{"n":6,"c":5,"d":940,"g":0.0028},{"n":6,"c":5,"d":1040,"g":0.0034},{"n":6,"c":5,"d":1140,"g":0.0038},{"n":6,"c":5,"d":1240,"g":0.0038},{"n":6,"c":5,"d":1340,"g":0.0033},{"n":6,"c":5,"d":1420,"g":0.0027},{"n":6,"c":5,"d":1500,"g":0.002}
 ]
},
"resolve": {"scale": {"y": "independent"}, "axis": {"x": "independent", "y": "independent"}},
"layer": [
 {
  "data": {"name": "k"},
  "mark": {"type": "line", "strokeJoin": "miter"},
  "encoding": {
   "x": {"field": "g", "type": "quantitative", "scale": {"domain": [-0.001, 0.02], "nice": false, "zero": false},
         "axis": {"orient": "bottom", "values": [0, 0.005, 0.01, 0.015, 0.02], "format": "~g", "title": "G/L Partial derivative [1/km]", "tickSize": -9, "labelPadding": 10, "titlePadding": 10}},
   "y": {"field": "d", "type": "quantitative", "scale": {"domain": [0, 1500], "reverse": true, "nice": false, "zero": false},
         "axis": {"orient": "left", "values": [0,100,200,300,400,500,600,700,800,900,1000,1100,1200,1300,1400,1500], "format": "d", "title": "Depth [km]", "tickSize": -9, "labelPadding": 12, "titlePadding": 12}},
   "color": {"field": "n", "type": "ordinal", "scale": {"domain": [0,1,2,3,4,5,6], "range": ["#000000","#ff00ff","#000000","#0000ff","#ff0000","#00ffff","#ffc000"]}, "legend": null},
   "strokeDash": {"field": "n", "type": "ordinal", "scale": {"domain": [0,1,2,3,4,5,6], "range": [[1,0],[1,0],[5,3],[1,0],[1,0],[1,0],[1,0]]}, "legend": null},
   "strokeWidth": {"field": "n", "type": "quantitative", "scale": {"domain": [1, 2], "range": [1, 2], "clamp": true, "zero": false}, "legend": null},
   "detail": {"field": "c", "type": "nominal"},
   "order": {"field": "d", "type": "quantitative"}
  }
 },
 {
  "data": {"name": "k"},
  "mark": {"type": "point", "opacity": 0, "size": 0},
  "encoding": {
   "x": {"field": "g", "type": "quantitative", "scale": {"domain": [-0.001, 0.02], "nice": false, "zero": false},
         "axis": {"orient": "top", "values": [0, 0.005, 0.01, 0.015, 0.02], "labels": false, "title": null, "tickSize": -9}},
   "y": {"field": "d", "type": "quantitative", "scale": {"domain": [0, 1500], "reverse": true, "nice": false, "zero": false},
         "axis": {"orient": "right", "values": [0,100,200,300,400,500,600,700,800,900,1000,1100,1200,1300,1400,1500], "labels": false, "title": null, "tickSize": -9}}
  }
 },
 {
  "data": {"name": "leg"},
  "mark": {"type": "rule"},
  "encoding": {
   "x": {"datum": 0.0133, "type": "quantitative", "axis": null},
   "x2": {"datum": 0.0172},
   "y": {"field": "n", "type": "ordinal", "scale": {"type": "point", "domain": [0,1,2,3,4,5,6], "range": [208, 374], "padding": 0}, "axis": null},
   "color": {"field": "n", "type": "ordinal", "scale": {"domain": [0,1,2,3,4,5,6], "range": ["#000000","#ff00ff","#000000","#0000ff","#ff0000","#00ffff","#ffc000"]}, "legend": null},
   "strokeDash": {"field": "n", "type": "ordinal", "scale": {"domain": [0,1,2,3,4,5,6], "range": [[1,0],[1,0],[5,3],[1,0],[1,0],[1,0],[1,0]]}, "legend": null},
   "strokeWidth": {"field": "n", "type": "quantitative", "scale": {"domain": [1, 2], "range": [1, 2], "clamp": true, "zero": false}, "legend": null}
  }
 },
 {
  "data": {"name": "leg"},
  "mark": {"type": "text", "align": "left", "baseline": "middle", "font": "Liberation Sans", "fontSize": 16, "fontWeight": "bold", "color": "#000000"},
  "encoding": {
   "x": {"datum": 0.0103, "type": "quantitative", "axis": null},
   "y": {"field": "n", "type": "ordinal", "scale": {"type": "point", "domain": [0,1,2,3,4,5,6], "range": [208, 374], "padding": 0}, "axis": null},
   "text": {"field": "lab", "type": "nominal"}
  }
 }
]
}
